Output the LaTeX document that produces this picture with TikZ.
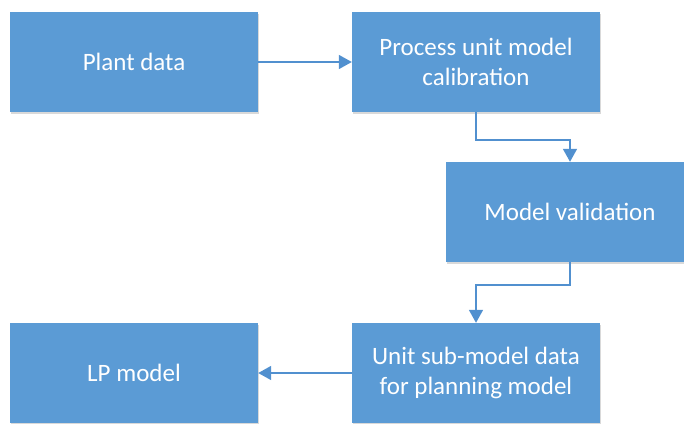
\documentclass[tikz,border=0pt]{standalone}
\usepackage{fontspec}
\setmainfont{Carlito}
\usetikzlibrary{arrows.meta,shadows}
\definecolor{boxblue}{HTML}{5B9BD5}
\definecolor{lineblue}{HTML}{5190CF}
\tikzset{
  stepbox/.style={fill=boxblue, draw=none, minimum width=248pt, minimum height=100pt,
    text=white, align=center, inner sep=0pt,
    font=\fontsize{25}{30}\selectfont,
    drop shadow={shadow xshift=1pt, shadow yshift=-1.5pt, opacity=0.25, fill=black!60}},
  flow/.style={draw=lineblue, line width=1.6pt,
    -{Triangle[length=13pt,width=14pt]}}
}
\begin{document}
\begin{tikzpicture}[x=1pt,y=-1pt]
  \useasboundingbox (0,0) rectangle (684,423);
  \begin{scope}
  \clip (0,0) rectangle (684,423);
  \node[stepbox] (plant) at (134,62) {Plant data};
  \node[stepbox] (calib) at (476,62) {Process unit model\\calibration};
  \node[stepbox] (valid) at (570,212) {Model validation};
  \node[stepbox] (unit)  at (476,373) {Unit sub-model data\\for planning model};
  \node[stepbox] (lp)    at (134,373) {LP model};
  \end{scope}
  \draw[flow] (plant.east) -- (calib.west);
  \draw[flow] (calib.south) -- ++(0,28) -| (valid.north);
  \draw[flow] (valid.south) -- ++(0,23) -| (unit.north);
  \draw[flow] (unit.west) -- (lp.east);
\end{tikzpicture}
\end{document}
